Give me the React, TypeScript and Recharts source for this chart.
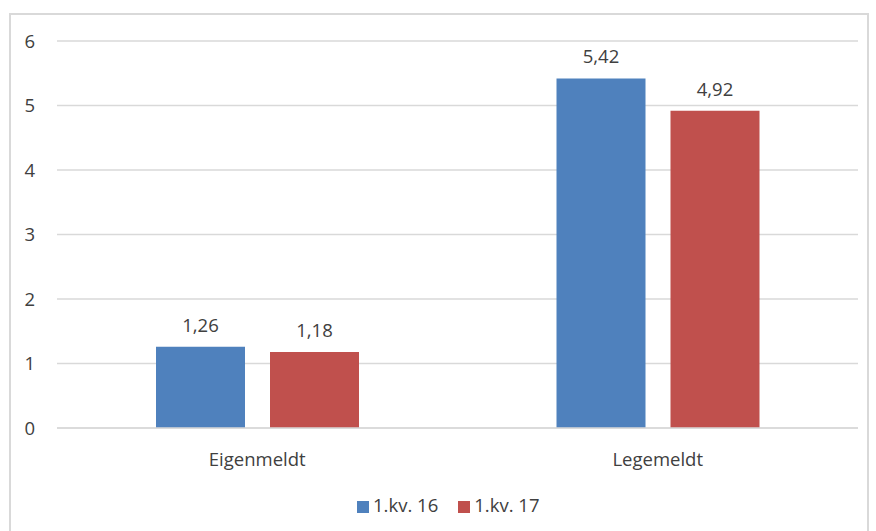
import React from 'react';
import { BarChart, Bar, XAxis, YAxis, CartesianGrid, Legend, LabelList } from 'recharts';

const categories = ['Eigenmeldt', 'Legemeldt'];
const q1_16 = [1.26, 5.42];
const q1_17 = [1.18, 4.92];
const yTicks = [0, 1, 2, 3, 4, 5, 6];

const data = categories.map((name, i) => ({ name, a: q1_16[i], b: q1_17[i] }));

const font = '"Open Sans", "Noto Sans", sans-serif';
const fs = 18.5;
const fmt = (v: any) => Number(v).toFixed(2).replace('.', ',');

export default function App() {
  return (
    <div style={{ position: 'absolute', left: 0, top: 0, width: 876, height: 531, background: '#fff', fontFamily: font, overflow: 'hidden' }}>
      <div style={{ position: 'absolute', left: 9, top: 13, width: 856, height: 530, border: '2px solid #d9d9d9' }} />
      <BarChart
        width={876}
        height={531}
        data={data}
        margin={{ top: 41, right: 18, bottom: 48, left: 0 }}
        barGap={25}
        barCategoryGap={99}
      >
        <CartesianGrid vertical={false} stroke="#d9d9d9" strokeWidth={1.5} />
        <XAxis
          dataKey="name"
          axisLine={{ stroke: '#d9d9d9', strokeWidth: 1.5 }}
          tickLine={false}
          tick={{ fill: '#404040', fontSize: fs, fontFamily: font }}
          tickMargin={19}
        />
        <YAxis
          width={57}
          domain={[0, 6]}
          ticks={yTicks}
          axisLine={false}
          tickLine={false}
          tick={{ fill: '#404040', fontSize: fs, fontFamily: font }}
          tickMargin={16}
        />
        <Legend
          verticalAlign="bottom"
          iconType="square"
          iconSize={12}
          wrapperStyle={{ fontFamily: font, fontSize: fs, color: '#404040', bottom: 14, left: 357, width: 'auto' }}
          formatter={(v) => <span style={{ color: '#404040', marginRight: 10 }}>{v}</span>}
        />
        <Bar dataKey="a" name="1.kv. 16" fill="#4F81BD" isAnimationActive={false}>
          <LabelList dataKey="a" position="top" offset={15} formatter={fmt} style={{ fill: '#404040', fontSize: fs, fontFamily: font }} />
        </Bar>
        <Bar dataKey="b" name="1.kv. 17" fill="#C0504D" isAnimationActive={false}>
          <LabelList dataKey="b" position="top" offset={15} formatter={fmt} style={{ fill: '#404040', fontSize: fs, fontFamily: font }} />
        </Bar>
      </BarChart>
    </div>
  );
}
